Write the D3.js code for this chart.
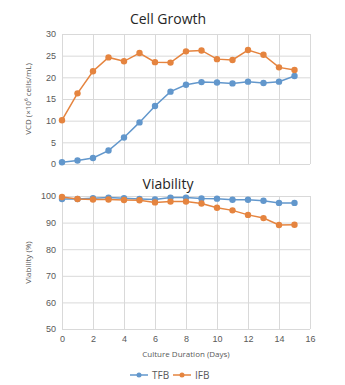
<!DOCTYPE html>
<html>
<head>
<meta charset="utf-8">
<script src="https://cdn.jsdelivr.net/npm/d3@7"></script>
<style>
  body { margin: 0; background: #fff; }
  svg { display: block; font-family: "Open Sans", "Noto Sans", sans-serif; }
  .grid line { stroke: #d9d9d9; stroke-width: 1; }
  .grid path { display: none; }
  .tick text { fill: #595959; font-size: 9px; }
  .ttl { fill: #262626; font-size: 14px; }
  .axt { fill: #595959; font-size: 8px; }
</style>
</head>
<body>
<svg id="chart" width="345" height="385"></svg>
<script>
var days = d3.range(0, 16);
var seriesNames = ['TFB', 'IFB'];
var seriesColors = ['#6297cc', '#e5843f'];

// viable cell density, x10^6 cells/mL
var vcdTFB = [0.4, 0.8, 1.4, 3.1, 6.1, 9.6, 13.4, 16.7, 18.3, 18.9, 18.8, 18.6, 19.0, 18.7, 19.0, 20.3];
var vcdIFB = [10.1, 16.3, 21.4, 24.6, 23.7, 25.6, 23.5, 23.4, 26.0, 26.2, 24.2, 24.0, 26.3, 25.2, 22.3, 21.7];

// viability, %
var viaTFB = [98.9, 98.9, 99.2, 99.4, 99.2, 98.9, 98.7, 99.4, 99.4, 99.1, 99.0, 98.6, 98.6, 98.2, 97.4, 97.4];
var viaIFB = [99.6, 98.9, 98.7, 98.7, 98.5, 98.4, 97.6, 97.9, 97.9, 97.2, 95.6, 94.6, 92.9, 91.7, 89.1, 89.2];

var xTicks = d3.range(0, 17, 2);
var vcdTicks = d3.range(0, 31, 5);
var viaTicks = d3.range(50, 101, 10);

var svg = d3.select('#chart');
var left = 62, right = 310;

var x = d3.scaleLinear().domain([0, 16]).range([left, right]);

var drawPanel = function(opts) {
  var y = d3.scaleLinear().domain(opts.domain).range([opts.bottom, opts.top]);
  var g = svg.append('g');

  // vertical gridlines
  g.append('g')
    .attr('class', 'grid')
    .attr('transform', 'translate(0,' + opts.bottom + ')')
    .call(d3.axisBottom(x).tickValues(xTicks).tickSize(opts.top - opts.bottom).tickFormat(''));

  // horizontal gridlines + labels
  var ya = g.append('g')
    .attr('class', 'grid')
    .attr('transform', 'translate(' + left + ',0)')
    .call(d3.axisLeft(y).tickValues(opts.ticks).tickSize(left - right).tickPadding(7));
  ya.selectAll('.tick text').attr('x', -6);

  if (opts.xLabels) {
    var xa = g.append('g')
      .attr('transform', 'translate(0,' + opts.bottom + ')')
      .call(d3.axisBottom(x).tickValues(xTicks).tickSize(0).tickPadding(7));
    xa.select('.domain').remove();
  }

  var line = d3.line()
    .x(function(d, i) { return x(days[i]); })
    .y(function(d) { return y(d); });

  opts.series.forEach(function(vals, k) {
    g.append('path')
      .datum(vals)
      .attr('d', line)
      .attr('fill', 'none')
      .attr('stroke', seriesColors[k])
      .attr('stroke-width', 1.5);
    g.selectAll(null)
      .data(vals)
      .enter().append('circle')
      .attr('cx', function(d, i) { return x(days[i]); })
      .attr('cy', function(d) { return y(d); })
      .attr('r', 3.2)
      .attr('fill', seriesColors[k]);
  });

  svg.append('text')
    .attr('class', 'ttl')
    .attr('x', 168).attr('y', opts.titleY)
    .attr('text-anchor', 'middle')
    .text(opts.title);

  svg.append('text')
    .attr('class', 'axt')
    .attr('transform', 'translate(31,' + (opts.top + opts.bottom) / 2 + ') rotate(-90)')
    .attr('text-anchor', 'middle')
    .text(opts.yTitle);
};

drawPanel({
  top: 34, bottom: 164, domain: [0, 30], ticks: vcdTicks,
  series: [vcdTFB, vcdIFB], title: 'Cell Growth', titleY: 24,
  yTitle: 'VCD (×10⁶ cells/mL)', xLabels: false
});

drawPanel({
  top: 196, bottom: 329, domain: [50, 100], ticks: viaTicks,
  series: [viaTFB, viaIFB], title: 'Viability', titleY: 189,
  yTitle: 'Viability (%)', xLabels: true
});

svg.append('text')
  .attr('class', 'axt')
  .attr('x', (left + right) / 2).attr('y', 357)
  .attr('text-anchor', 'middle')
  .text('Culture Duration (Days)');

// legend
var legend = svg.append('g').attr('transform', 'translate(130,375)');
seriesNames.forEach(function(name, k) {
  var item = legend.append('g').attr('transform', 'translate(' + (k * 43) + ',0)');
  item.append('line')
    .attr('x1', 0).attr('x2', 18)
    .attr('stroke', seriesColors[k]).attr('stroke-width', 1.5);
  item.append('circle')
    .attr('cx', 9).attr('r', 2.5)
    .attr('fill', seriesColors[k]);
  item.append('text')
    .attr('x', 22).attr('y', 3.5)
    .attr('fill', '#595959')
    .style('font-size', '10px')
    .text(name);
});
</script>
</body>
</html>
